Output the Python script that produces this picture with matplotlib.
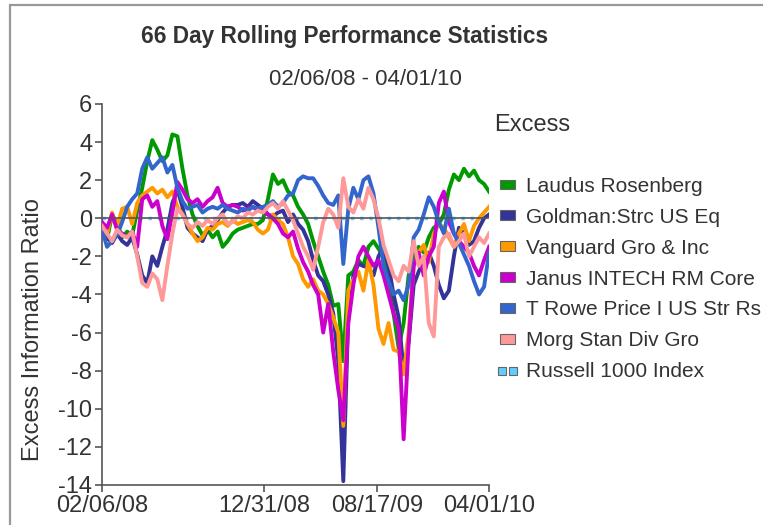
import numpy as np
import pandas as pd
import matplotlib
matplotlib.use('Agg')
import matplotlib.pyplot as plt
from matplotlib.patches import Patch, Rectangle
from matplotlib.lines import Line2D
from matplotlib.legend_handler import HandlerLine2D

plt.rcParams['font.family'] = ['Liberation Sans', 'DejaVu Sans']
plt.rcParams['text.color'] = '#333333'
plt.rcParams['axes.unicode_minus'] = False

# excess information ratio, sampled about every 5 px (~10 days) across the window
laudus = [-0.5, -1.1, 0.2, -0.3, -1.0, -0.7, -0.9, 0.4, 1.6, 3.0, 4.1, 3.6, 3.0, 3.3, 4.4, 4.3, 2.6, 1.2, 0.2, -0.4,
          -0.9, -0.6, -1.0, -0.7, -1.5, -1.2, -0.8, -0.6, -0.5, -0.4, -0.3, -0.3, -0.1, 1.0, 2.3, 1.8, 2.0, 1.4, 1.2, 0.6,
          0.2, -0.3, -1.2, -2.0, -2.8, -3.5, -4.6, -4.5, -7.5, -3.0, -2.8, -2.2, -2.5, -1.5, -1.2, -1.6, -2.0, -3.0, -5.0, -6.8,
          -5.5, -3.0, -2.0, -1.5, -1.8, -1.0, -0.5, -0.3, 0.2, 1.5, 2.3, 2.0, 2.6, 2.2, 2.5, 2.0, 1.8, 1.4]
goldman = [-0.7, -1.0, -1.3, -0.8, -1.2, -1.4, -1.0, -1.9, -3.0, -3.4, -2.0, -2.5, -1.5, -0.6, 0.8, 1.5, 0.6, -0.5, -0.8, -1.0,
           -1.2, -0.6, -0.4, -0.1, 0.3, 0.6, 0.7, 0.7, 0.8, 0.6, 0.9, 0.7, 0.5, 0.2, 0.1, 0.3, 0.4, -0.2, 0.2, -0.3,
           -0.6, -1.2, -2.2, -3.0, -3.3, -4.0, -5.0, -7.5, -13.8, -5.0, -3.0, -2.4, -2.5, -2.6, -3.0, -2.0, -1.5, -2.5, -4.0, -5.2,
           -8.0, -6.5, -3.5, -2.8, -2.2, -1.8, -2.5, -3.5, -4.2, -3.8, -2.0, -0.5, -0.8, -1.4, -1.2, -0.5, 0.0, 0.2]
vanguard = [-0.3, -0.8, 0.3, -0.5, 0.5, 0.6, -0.3, 0.8, 1.2, 1.4, 1.6, 1.3, 1.5, 1.1, 1.4, 0.6, 0.2, -0.3, -0.8, -1.2,
            -1.0, -0.5, -0.6, -0.3, -0.2, -0.4, -0.1, -0.3, -0.2, -0.1, -0.2, -0.6, -0.8, -0.6, 0.2, -0.1, -0.3, -1.0, -2.0, -2.4,
            -3.2, -3.6, -3.2, -3.8, -4.0, -4.5, -5.2, -6.0, -10.9, -3.8, -3.2, -2.8, -3.8, -2.2, -3.5, -5.8, -6.6, -5.5, -6.9, -7.0,
            -8.2, -6.0, -2.5, -1.8, -1.4, -2.3, -0.8, -0.3, -0.5, -1.0, -1.5, -0.8, -0.3, -1.2, -0.4, 0.0, 0.3, 0.6]
janus = [-0.2, -0.5, 0.2, -0.6, -0.8, -1.0, -0.7, -1.5, 1.0, 1.2, 0.6, 0.9, -0.4, -1.1, 0.3, 1.9, 1.5, 1.0, 0.8, 1.0,
         0.6, 0.9, 1.1, 1.6, 0.8, 0.6, 0.7, 0.6, 0.4, 0.5, 0.6, 0.4, 0.5, 0.2, 0.0, -0.3, -0.8, -1.0, -0.7, -1.6,
         -2.3, -2.8, -3.5, -4.0, -6.0, -4.5, -7.0, -9.0, -10.6, -5.5, -3.5, -2.0, -1.5, -2.0, -2.5, -2.2, -3.0, -4.0, -5.0, -5.8,
         -11.6, -6.5, -2.5, -1.8, -3.0, -2.0, -1.5, 0.8, 1.4, -0.2, -0.8, -1.2, -1.5, -1.8, -2.5, -3.0, -2.2, -1.5]
trowe = [-0.6, -1.5, -1.2, -0.9, -0.2, 0.6, 1.0, 1.3, 2.6, 3.2, 2.6, 2.9, 3.2, 2.4, 2.8, 1.6, 0.9, 0.5, 0.6, 0.7,
         0.3, 0.5, 0.6, 0.5, 0.7, 0.5, 0.4, 0.3, 0.5, 0.4, 0.6, 0.5, 0.6, 0.7, 0.9, 0.6, 0.8, 1.2, 1.3, 2.0,
         2.2, 2.1, 2.1, 1.7, 1.2, 0.8, 0.7, 1.2, -2.4, 0.5, 1.6, 1.0, 2.0, 2.2, 1.3, -0.5, -2.5, -3.3, -4.0, -3.8,
         -4.3, -3.5, -1.0, -0.6, 0.2, 1.1, 0.6, -0.2, -0.8, 0.5, -0.8, -1.3, -1.9, -2.5, -3.3, -4.0, -3.6, -1.8]
morgan = [-0.4, -0.8, -1.2, -0.6, -0.9, -1.0, -0.7, -2.0, -3.4, -3.6, -2.9, -3.2, -4.3, -2.5, -0.8, 0.5, 0.2, -0.3, -0.5, -0.2,
          -0.4, -0.1, -0.3, 0.0, 0.2, -0.3, -0.2, 0.1, 0.0, 0.3, 0.2, 0.4, 0.3, 0.6, 0.8, 0.5, 0.9, 0.4, -0.1, -0.8,
          -1.5, -2.0, -2.7, -1.5, -0.2, 0.5, 0.2, -0.5, 2.1, 0.6, 0.3, 1.0, 0.5, 1.6, 1.0, 0.0, -1.4, -2.2, -3.0, -3.3,
          -2.5, -2.8, -1.2, -2.5, -2.0, -5.5, -6.2, -1.5, -1.0, -0.8, -1.5, -1.2, -0.8, -2.0, -1.5, -1.0, -1.3, -0.8]
russell = [0.0] * len(laudus)

names = ['Laudus Rosenberg', 'Goldman:Strc US Eq', 'Vanguard Gro & Inc', 'Janus INTECH RM Core',
         'T Rowe Price I US Str Rs', 'Morg Stan Div Gro', 'Russell 1000 Index']
colors = ['#009900', '#333399', '#FF9900', '#CC00CC', '#3366CC', '#FF9999', '#66CCFF']
tick_dates = ['2008-02-06', '2008-12-31', '2009-08-17', '2010-04-01']
tick_labels = ['02/06/08', '12/31/08', '08/17/09', '04/01/10']

dates = pd.date_range('2008-02-06', '2010-04-01', periods=len(laudus))

fig = plt.figure(figsize=(7.63, 5.25), dpi=100)

# chart border (cut off at the right and bottom in the original)
fig.patches.append(Rectangle((10 / 763, -0.1), 1.2, 1.1 - 5 / 525, transform=fig.transFigure,
                             fill=False, edgecolor='#999999', lw=1.6))

ax = fig.add_axes([0.1337, 0.0762, 0.5073, 0.7258])

ax.plot(dates, russell, color=colors[6], lw=2.5, ls=':', zorder=1)
series = [laudus, goldman, vanguard, janus, trowe, morgan]
for i, s in enumerate(series):
    ax.plot(dates, s, color=colors[i], lw=2.8, zorder=2 + i)
ax.axhline(0, color='#555555', lw=1.2, zorder=10)

ax.set_xlim(pd.Timestamp(tick_dates[0]), pd.Timestamp(tick_dates[-1]))
ax.set_ylim(-14, 6)
ax.set_yticks(range(-14, 7, 2))
ax.set_xticks([pd.Timestamp(d) for d in tick_dates])
ax.set_xticklabels(tick_labels)
ax.tick_params(labelsize=17, colors='#555555', labelcolor='#333333', length=5, width=1.2, pad=2)
for sp in ['top', 'right']:
    ax.spines[sp].set_visible(False)
for sp in ['left', 'bottom']:
    ax.spines[sp].set_color('#555555')
    ax.spines[sp].set_linewidth(1.2)

fig.text(33 / 763, 1 - 330 / 525, 'Excess Information Ratio', fontsize=17, rotation=90,
         ha='center', va='center')

fig.text(0.451, 0.93, '66 Day Rolling Performance Statistics', fontsize=16.3, fontweight='bold',
         ha='center', va='center')
fig.text(0.479, 0.848, '02/06/08 - 04/01/10', fontsize=16, ha='center', va='center')
fig.text(0.648, 0.762, 'Excess', fontsize=17, ha='left', va='center')

handles = [Patch(facecolor=c, edgecolor='#666666', lw=0.8) for c in colors[:6]]
russell_handle = Line2D([], [], ls='none', marker='s', markersize=5.5, markerfacecolor=colors[6],
                        markeredgecolor='#666666', markeredgewidth=0.8)
handles.append(russell_handle)
fig.legend(handles, names, loc='upper left', bbox_to_anchor=(0.655, 0.663), frameon=False,
           fontsize=15, handlelength=0.72, handleheight=0.35, handletextpad=0.55,
           labelspacing=0.57, numpoints=2, borderaxespad=0, borderpad=0,
           handler_map={russell_handle: HandlerLine2D(numpoints=2, marker_pad=0.1)})

fig.savefig('out.png', dpi=100)
